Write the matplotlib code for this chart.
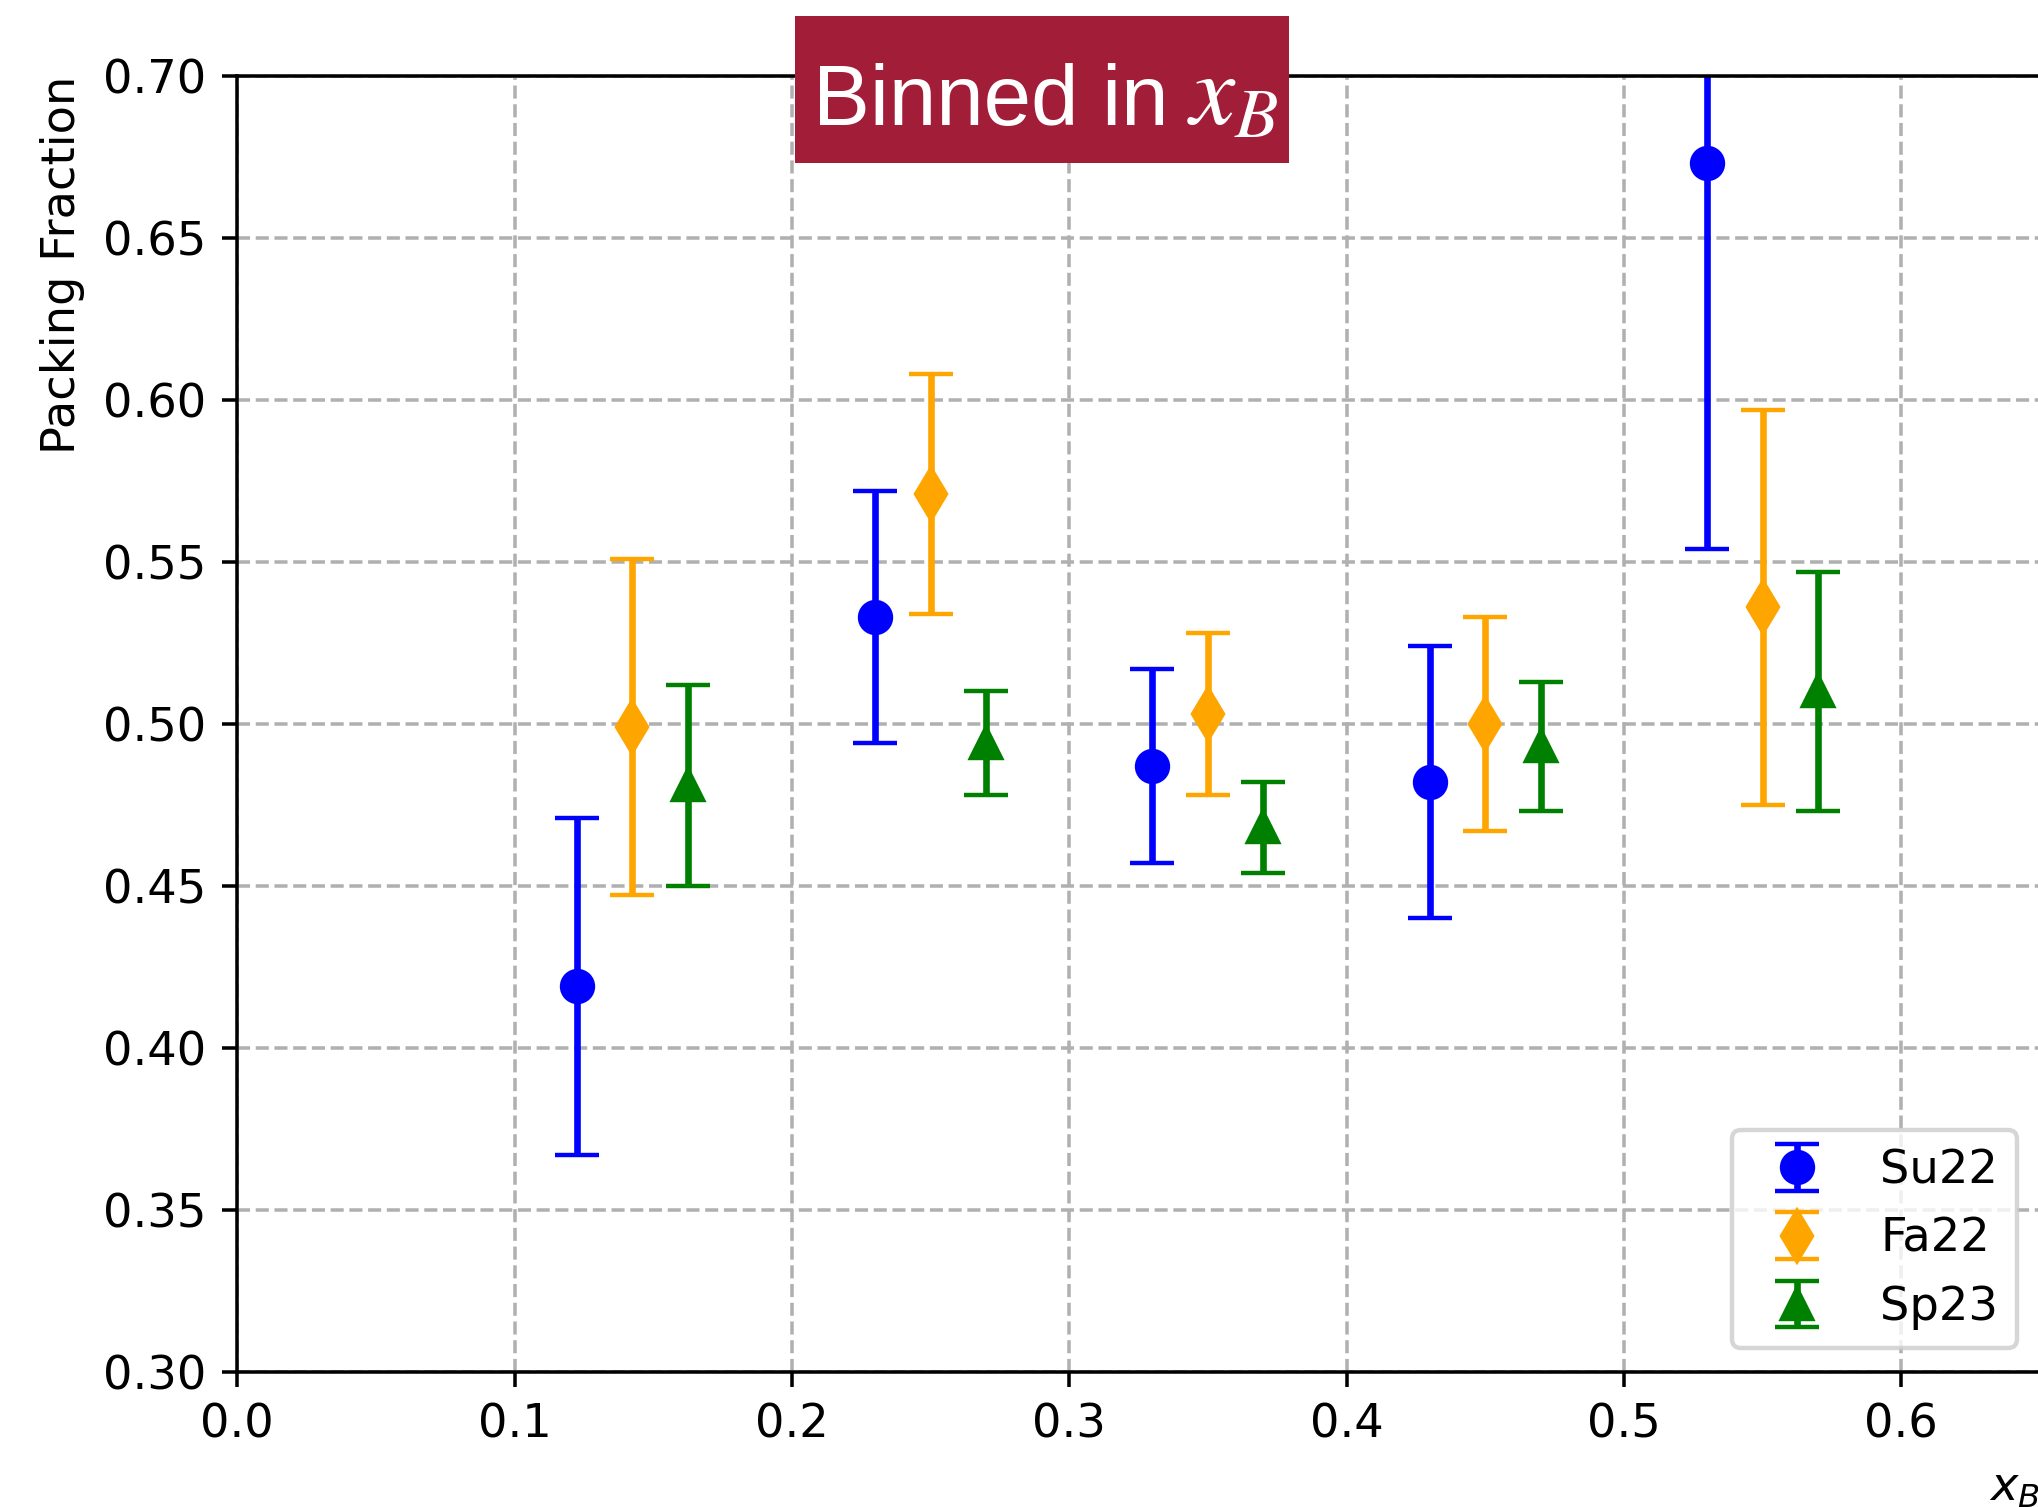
import numpy as np
import matplotlib
matplotlib.use("Agg")
import matplotlib.pyplot as plt
from matplotlib.patches import Rectangle

# packing fraction per x_B bin, one array per run period
x_su22 = [0.1225, 0.23, 0.33, 0.43, 0.53]
x_fa22 = [0.1425, 0.25, 0.35, 0.45, 0.55]
x_sp23 = [0.1625, 0.27, 0.37, 0.47, 0.57]

pf_su22 = [0.419, 0.533, 0.487, 0.482, 0.673]
err_su22 = [0.052, 0.039, 0.030, 0.042, 0.119]

pf_fa22 = [0.499, 0.571, 0.503, 0.500, 0.536]
err_fa22 = [0.052, 0.037, 0.025, 0.033, 0.061]

pf_sp23 = [0.481, 0.494, 0.468, 0.493, 0.510]
err_sp23 = [0.031, 0.016, 0.014, 0.020, 0.037]

plt.rcParams['font.size'] = 10.5

DPI = 318
fig = plt.figure(figsize=(2038 / DPI, 1507 / DPI), dpi=DPI)
ax = fig.add_axes([0.1164, 0.0898, 1.001 - 0.1164, 0.9496 - 0.0898])

ax.errorbar(x_su22, pf_su22, yerr=err_su22, fmt='o', color='blue', ms=7, capsize=5, label='Su22')
ax.errorbar(x_fa22, pf_fa22, yerr=err_fa22, fmt='d', color='orange', ms=8, capsize=5, label='Fa22')
ax.errorbar(x_sp23, pf_sp23, yerr=err_sp23, fmt='^', color='green', ms=7, capsize=5, label='Sp23')

ax.set_xlim(0, 0.65)
ax.set_ylim(0.30, 0.70)
ax.set_xticks(np.arange(0, 0.65, 0.1))
ax.set_ylabel('Packing Fraction', loc='top')
ax.set_xlabel('$x_B$', loc='right')
ax.grid(True, linestyle='--')
ax.legend(loc='lower right')

# banner on top of the axes
fig.patches.append(Rectangle((795 / 2038, 1 - 163 / 1507), 494 / 2038, 147 / 1507,
                             transform=fig.transFigure, facecolor='#A21D37',
                             edgecolor='none', zorder=10))
fig.text(813 / 2038, 1 - 125 / 1507, 'Binned in', color='white', fontsize=19.3,
         family='Liberation Sans', ha='left', va='baseline', zorder=11)
fig.text(1187 / 2038, 1 - 125 / 1507, '$x_B$', color='white', fontsize=23,
         math_fontfamily='stix', ha='left', va='baseline', zorder=11)

fig.savefig('out.png', dpi=DPI)
